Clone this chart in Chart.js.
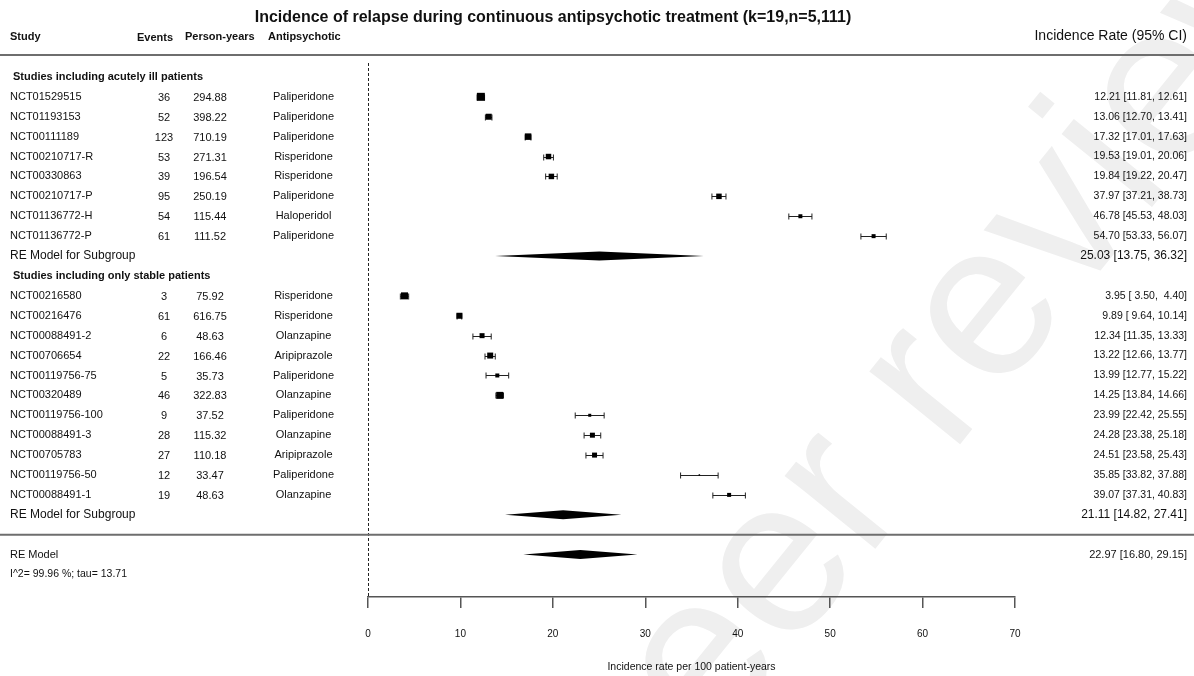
<!DOCTYPE html>
<html>
<head>
<meta charset="utf-8">
<script src="https://cdn.jsdelivr.net/npm/chart.js@4.4.1/dist/chart.umd.min.js"></script>
<style>
  html, body { margin: 0; padding: 0; background: #fff; }
  #forest { display: block; }
</style>
</head>
<body>
<canvas id="forest" width="1194" height="676"></canvas>
<script>
// data
const studies = ['NCT01529515', 'NCT01193153', 'NCT00111189', 'NCT00210717-R', 'NCT00330863', 'NCT00210717-P', 'NCT01136772-H', 'NCT01136772-P',
  'NCT00216580', 'NCT00216476', 'NCT00088491-2', 'NCT00706654', 'NCT00119756-75', 'NCT00320489', 'NCT00119756-100', 'NCT00088491-3', 'NCT00705783', 'NCT00119756-50', 'NCT00088491-1'];
const events = [36, 52, 123, 53, 39, 95, 54, 61, 3, 61, 6, 22, 5, 46, 9, 28, 27, 12, 19];
const personYears = ['294.88', '398.22', '710.19', '271.31', '196.54', '250.19', '115.44', '111.52',
  '75.92', '616.75', '48.63', '166.46', '35.73', '322.83', '37.52', '115.32', '110.18', '33.47', '48.63'];
const drugs = ['Paliperidone', 'Paliperidone', 'Paliperidone', 'Risperidone', 'Risperidone', 'Paliperidone', 'Haloperidol', 'Paliperidone',
  'Risperidone', 'Risperidone', 'Olanzapine', 'Aripiprazole', 'Paliperidone', 'Olanzapine', 'Paliperidone', 'Olanzapine', 'Aripiprazole', 'Paliperidone', 'Olanzapine'];
const rate = [12.21, 13.06, 17.32, 19.53, 19.84, 37.97, 46.78, 54.70, 3.95, 9.89, 12.34, 13.22, 13.99, 14.25, 23.99, 24.28, 24.51, 35.85, 39.07];
const lower = [11.81, 12.70, 17.01, 19.01, 19.22, 37.21, 45.53, 53.33, 3.50, 9.64, 11.35, 12.66, 12.77, 13.84, 22.42, 23.38, 23.58, 33.82, 37.31];
const upper = [12.61, 13.41, 17.63, 20.06, 20.47, 38.73, 48.03, 56.07, 4.40, 10.14, 13.33, 13.77, 15.22, 14.66, 25.55, 25.18, 25.43, 37.88, 40.83];

const groupNames = ['Studies including acutely ill patients', 'Studies including only stable patients'];
const groupSizes = [8, 11];
const groupEst = [25.03, 21.11];
const groupLo = [13.75, 14.82];
const groupHi = [36.32, 27.41];

const overallEst = 22.97;
const overallLo = 16.80;
const overallHi = 29.15;
const hetText = 'I^2= 99.96 %; tau= 13.71';

const xTicks = [0, 10, 20, 30, 40, 50, 60, 70];
const titleText = 'Incidence of relapse during continuous antipsychotic treatment (k=19,n=5,111)';
const xTitle = 'Incidence rate per 100 patient-years';

// square sizes (px side)
const boxSide = [8, 6, 6.5, 5.5, 5.5, 5.5, 4, 4, 7, 6, 5, 6, 4, 7, 3, 5, 5, 1.5, 4];

const FONT = '"Liberation Sans", Arial, Helvetica, sans-serif';
const INK = '#111';

// row layout
const n1 = groupSizes[0];
const headRows = [0, n1 + 2];
const subRows = [n1 + 1, n1 + groupSizes[1] + 3];
const sepRow = subRows[1] + 1;
const overallRow = sepRow + 1;
const hetRow = overallRow + 1;
function studyRow(i) { return i < n1 ? i + 1 : i + 3; }

function fmt(v) { return v.toFixed(2).padStart(5, ' '); }
function ciText(e, l, u) { return fmt(e) + ' [' + fmt(l) + ', ' + fmt(u) + ']'; }

function txt(ctx, s, x, y, size, align, bold) {
  ctx.font = (bold ? 'bold ' : '') + size + 'px ' + FONT;
  ctx.textAlign = align;
  ctx.textBaseline = 'middle';
  ctx.fillStyle = INK;
  ctx.fillText(s, x, y);
}

function diamond(ctx, xs, ys, lo, est, hi, row) {
  const y = ys.getPixelForValue(row);
  ctx.beginPath();
  ctx.moveTo(xs.getPixelForValue(lo), y);
  ctx.lineTo(xs.getPixelForValue(est), y - 4.5);
  ctx.lineTo(xs.getPixelForValue(hi), y);
  ctx.lineTo(xs.getPixelForValue(est), y + 4.5);
  ctx.closePath();
  ctx.fillStyle = '#000';
  ctx.fill();
}

const forestPlugin = {
  id: 'forest',
  beforeDraw(chart) {
    const ctx = chart.ctx;
    // faint watermark
    ctx.save();
    ctx.translate(780, 570);
    ctx.rotate(-51 * Math.PI / 180);
    ctx.font = '220px ' + FONT;
    ctx.fillStyle = '#efefef';
    ctx.textAlign = 'left';
    ctx.textBaseline = 'middle';
    ctx.fillText('Peer review', -330, 0);
    ctx.restore();
  },
  beforeDatasetsDraw(chart) {
    const ctx = chart.ctx, xs = chart.scales.x, ys = chart.scales.y, area = chart.chartArea;
    ctx.save();
    // reference line at 0
    ctx.strokeStyle = '#222';
    ctx.lineWidth = 1;
    ctx.setLineDash([3, 2]);
    ctx.beginPath();
    const x0 = Math.round(xs.getPixelForValue(0)) + 0.5;
    ctx.moveTo(x0, area.top + 2);
    ctx.lineTo(x0, area.bottom);
    ctx.stroke();
    ctx.setLineDash([]);
    // confidence intervals
    ctx.strokeStyle = '#222';
    rate.forEach((v, i) => {
      const y = Math.round(ys.getPixelForValue(studyRow(i))) + 0.5;
      const a = xs.getPixelForValue(lower[i]), b = xs.getPixelForValue(upper[i]);
      ctx.beginPath();
      ctx.moveTo(a, y); ctx.lineTo(b, y);
      ctx.moveTo(a, y - 3); ctx.lineTo(a, y + 3);
      ctx.moveTo(b, y - 3); ctx.lineTo(b, y + 3);
      ctx.stroke();
    });
    // summary diamonds
    groupEst.forEach((e, g) => diamond(ctx, xs, ys, groupLo[g], e, groupHi[g], subRows[g]));
    diamond(ctx, xs, ys, overallLo, overallEst, overallHi, overallRow);
    ctx.restore();
  },
  afterDraw(chart) {
    const ctx = chart.ctx, ys = chart.scales.y;
    const W = chart.width;
    const R = 1187;
    ctx.save();
    // separators
    ctx.strokeStyle = '#6e6e6e';
    ctx.lineWidth = 2;
    [ys.getPixelForValue(-1.1), ys.getPixelForValue(sepRow)].forEach(y => {
      ctx.beginPath(); ctx.moveTo(0, y); ctx.lineTo(W, y); ctx.stroke();
    });

    txt(ctx, titleText, 553, ys.getPixelForValue(-3), 16, 'center', true);
    const hy = ys.getPixelForValue(-2);
    txt(ctx, 'Study', 10, hy, 11, 'left', true);
    txt(ctx, 'Events', 137, hy + 1, 11, 'left', true);
    txt(ctx, 'Person-years', 185, hy, 11, 'left', true);
    txt(ctx, 'Antipsychotic', 268, hy, 11, 'left', true);
    txt(ctx, 'Incidence Rate (95% CI)', R, hy - 1, 14, 'right', false);

    groupNames.forEach((g, k) => txt(ctx, g, 13, ys.getPixelForValue(headRows[k]), 11, 'left', true));

    studies.forEach((s, i) => {
      const y = ys.getPixelForValue(studyRow(i));
      txt(ctx, s, 10, y, 11, 'left', false);
      txt(ctx, String(events[i]), 164, y + 1, 11, 'center', false);
      txt(ctx, personYears[i], 210, y + 1, 11, 'center', false);
      txt(ctx, drugs[i], 303.5, y, 11, 'center', false);
      txt(ctx, ciText(rate[i], lower[i], upper[i]), R, y, 10.5, 'right', false);
    });

    groupEst.forEach((e, g) => {
      const y = ys.getPixelForValue(subRows[g]);
      txt(ctx, 'RE Model for Subgroup', 10, y, 12, 'left', false);
      txt(ctx, ciText(e, groupLo[g], groupHi[g]), R, y, 12, 'right', false);
    });

    const oy = ys.getPixelForValue(overallRow);
    txt(ctx, 'RE Model', 10, oy, 11, 'left', false);
    txt(ctx, ciText(overallEst, overallLo, overallHi), R, oy, 11, 'right', false);
    txt(ctx, hetText, 10, ys.getPixelForValue(hetRow), 10.5, 'left', false);
    ctx.restore();
  }
};

new Chart(document.getElementById('forest'), {
  type: 'scatter',
  data: {
    datasets: [{
      data: rate.map((v, i) => ({ x: v, y: studyRow(i) })),
      pointStyle: 'rect',
      pointRadius: boxSide.map(s => s / Math.SQRT2),
      pointHoverRadius: boxSide.map(s => s / Math.SQRT2),
      backgroundColor: '#000',
      borderWidth: 0
    }]
  },
  options: {
    responsive: false,
    animation: false,
    devicePixelRatio: 1,
    layout: { padding: { left: 368, right: 179, top: 61, bottom: 0 } },
    plugins: { legend: { display: false }, tooltip: { enabled: false }, title: { display: false } },
    scales: {
      x: {
        type: 'linear',
        min: 0,
        max: 70,
        afterBuildTicks: s => { s.ticks = xTicks.map(v => ({ value: v })); },
        afterFit: s => { s.height = 79; },
        grid: { drawOnChartArea: false, drawTicks: true, tickLength: 11, color: '#555', lineWidth: 1.5 },
        border: { display: true, color: '#555', width: 1.5 },
        ticks: { font: { family: FONT, size: 10 }, color: INK, padding: 20 },
        title: { display: true, text: xTitle, font: { family: FONT, size: 10.5 }, color: INK, padding: { top: 0, bottom: 3 } }
      },
      y: {
        display: false,
        min: -0.8,
        max: 26.13,
        reverse: true
      }
    }
  },
  plugins: [forestPlugin]
});
</script>
</body>
</html>
